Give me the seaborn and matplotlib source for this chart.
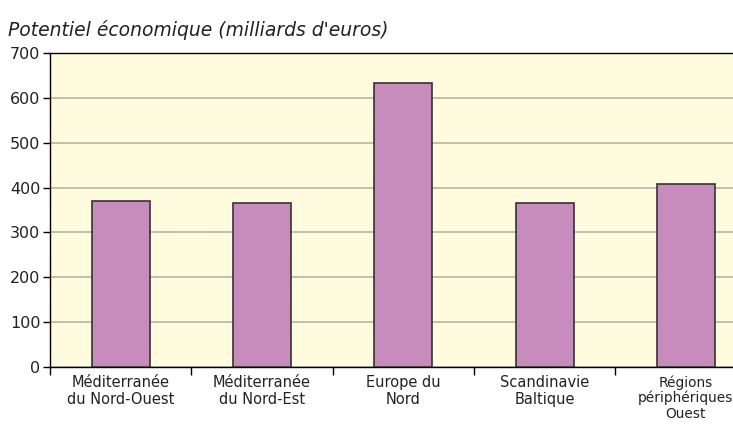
import numpy as np
import pandas as pd
import matplotlib
matplotlib.use("Agg")
import matplotlib.pyplot as plt
import seaborn as sns
from matplotlib.ticker import FixedLocator

# Data
regions = ["Méditerranée\ndu Nord-Ouest", "Méditerranée\ndu Nord-Est", "Europe du\nNord",
           "Scandinavie\nBaltique", "Régions\npériphériques\nOuest"]
potentiel = [370, 366, 633, 366, 407]
y_ticks = [0, 100, 200, 300, 400, 500, 600, 700]

sns.set_style("white")
plt.rcParams['font.family'] = ['DejaVu Sans']

df = pd.DataFrame({"region": regions, "potentiel": potentiel})

fig = plt.figure(figsize=(7.33, 4.28), dpi=100)
# axes runs past the right edge, like the cropped original
ax = fig.add_axes([50 / 733, 1 - 367 / 428, 706.5 / 733, 314 / 428])
ax.set_facecolor("#FFFBDF")

sns.barplot(data=df, x="region", y="potentiel", ax=ax, color="#C78CBC",
            saturation=1, width=0.41, edgecolor="#333333", linewidth=1.2, zorder=3)

ax.set_ylim(0, 700)
ax.set_xlim(-0.5, 4.5)
ax.set_yticks(y_ticks)
ax.yaxis.grid(True, color="#BDBAAD", linewidth=1.3, zorder=0)
ax.set_axisbelow(True)

ax.tick_params(axis="y", direction="out", length=5, width=1, color="black",
               labelsize=11.5, pad=2, left=True, labelcolor="#222222")
ax.tick_params(axis="x", which="major", length=0, labelsize=10.5, pad=6,
               labelcolor="#222222")
ax.xaxis.set_minor_locator(FixedLocator([-0.5, 0.5, 1.5, 2.5, 3.5]))
ax.tick_params(axis="x", which="minor", direction="out", length=6, width=1,
               color="black", bottom=True)
xlabels = ax.get_xticklabels()
for lbl in xlabels:
    lbl.set_linespacing(1.1)
# last label sits on the right edge; a touch smaller so it stays in frame
xlabels[-1].set_fontsize(9.9)

for side in ["left", "bottom", "top"]:
    ax.spines[side].set_visible(True)
    ax.spines[side].set_color("black")
    ax.spines[side].set_linewidth(1)
ax.spines["right"].set_visible(False)

ax.set_xlabel("")
ax.set_ylabel("")
fig.text(8 / 733, 1 - 30 / 428, "Potentiel économique (milliards d'euros)",
         fontsize=13.5, style="italic", color="#222222", va="center", ha="left")

plt.savefig("out.png", dpi=100)
plt.close()
